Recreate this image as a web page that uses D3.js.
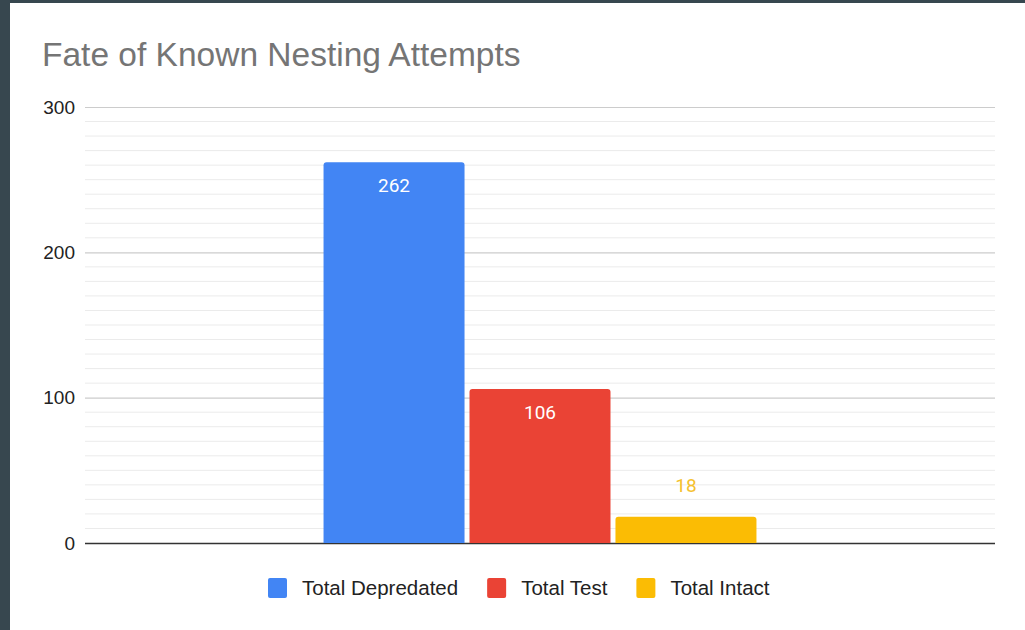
<!DOCTYPE html>
<html>
<head>
<meta charset="utf-8">
<script src="https://cdn.jsdelivr.net/npm/d3@7"></script>
<style>
  html, body { margin: 0; padding: 0; background: #37474f; }
  svg { display: block; }
  .sans { font-family: Arial, "Liberation Sans", Helvetica, sans-serif; }
  .robo { font-family: Roboto, "Noto Sans", sans-serif; }
</style>
</head>
<body>
<svg id="chart" width="1025" height="630"></svg>
<script>
// Chart content
const chartTitle = "Fate of Known Nesting Attempts";
const categories = [""];
const seriesNames = ["Total Depredated", "Total Test", "Total Intact"];
const seriesValues = [262, 106, 18];
const seriesColors = ["#4285f4", "#ea4335", "#fbbc04"];
const labelColors = ["#ffffff", "#ffffff", "#f5c12e"];
const yTicks = [0, 100, 200, 300];

const W = 1025, H = 630;
const margin = { left: 85, right: 30, top: 107, bottom: 87 };

const svg = d3.select("#chart");

// framed panel
svg.append("rect").attr("x", 0).attr("y", 0).attr("width", W).attr("height", H).attr("fill", "#37474f");
svg.append("rect").attr("x", 10).attr("y", 3).attr("width", W - 10).attr("height", H - 3).attr("fill", "#ffffff");

const x0 = d3.scaleBand()
  .domain(categories)
  .range([margin.left, W - margin.right])
  .paddingInner(0)
  .paddingOuter(0.551);

const x1 = d3.scaleBand()
  .domain(seriesNames)
  .range([0, x0.bandwidth()])
  .paddingInner(0.034)
  .paddingOuter(0);

const y = d3.scaleLinear()
  .domain([0, 300])
  .range([H - margin.bottom, margin.top]);

// minor gridlines every 10
const minorTicks = d3.range(0, 301, 10).filter(v => !yTicks.includes(v));
svg.append("g")
  .selectAll("line")
  .data(minorTicks)
  .join("line")
  .attr("x1", margin.left).attr("x2", W - margin.right)
  .attr("y1", d => y(d)).attr("y2", d => y(d))
  .attr("stroke", "#ebebeb").attr("stroke-width", 1);

// major gridlines and tick labels via axis
const yAxis = d3.axisLeft(y)
  .tickValues(yTicks)
  .tickSize(-(W - margin.left - margin.right))
  .tickPadding(10)
  .tickFormat(d3.format("d"));

const gy = svg.append("g")
  .attr("transform", `translate(${margin.left},0)`)
  .call(yAxis);
gy.attr("font-family", null).attr("font-size", null);
gy.select(".domain").remove();
gy.selectAll(".tick line")
  .attr("stroke", d => d === 0 ? "#333333" : "#cccccc")
  .attr("stroke-width", d => d === 0 ? 1.6 : 1.2);
gy.selectAll(".tick text")
  .attr("class", "sans")
  .attr("font-size", 19)
  .attr("fill", "#222222");

// bars with rounded top corners
function topRounded(x, yTop, w, h, r) {
  r = Math.min(r, h, w / 2);
  return `M${x},${yTop + h}V${yTop + r}Q${x},${yTop} ${x + r},${yTop}H${x + w - r}Q${x + w},${yTop} ${x + w},${yTop + r}V${yTop + h}Z`;
}

const rows = seriesNames.map((name, i) => ({ name, value: seriesValues[i], color: seriesColors[i], labelColor: labelColors[i], cat: categories[0] }));

const bars = svg.append("g");
bars.selectAll("path")
  .data(rows)
  .join("path")
  .attr("d", d => {
    const bx = x0(d.cat) + x1(d.name);
    const by = y(d.value);
    return topRounded(bx, by, x1.bandwidth(), y(0) - by, 3);
  })
  .attr("fill", d => d.color);

// value labels: inside the bar when it fits, otherwise above
bars.selectAll("text")
  .data(rows)
  .join("text")
  .attr("class", "robo")
  .attr("x", d => x0(d.cat) + x1(d.name) + x1.bandwidth() / 2)
  .attr("y", d => {
    const h = y(0) - y(d.value);
    return h > 45 ? y(d.value) + 30 : y(d.value) - 25;
  })
  .attr("text-anchor", "middle")
  .attr("font-size", 19)
  .attr("fill", d => d.labelColor)
  .text(d => d.value);

// title
svg.append("text")
  .attr("class", "sans")
  .attr("x", 42).attr("y", 66)
  .attr("font-size", 33.5)
  .attr("fill", "#757575")
  .text(chartTitle);

// legend
const legend = svg.append("g").attr("transform", "translate(268,578)");
let lx = 0;
seriesNames.forEach((name, i) => {
  const item = legend.append("g").attr("transform", `translate(${lx},0)`);
  item.append("rect")
    .attr("x", 0).attr("y", 0).attr("width", 19).attr("height", 20).attr("rx", 2)
    .attr("fill", seriesColors[i]);
  const t = item.append("text")
    .attr("class", "sans")
    .attr("x", 34).attr("y", 17)
    .attr("font-size", 20.5)
    .attr("fill", "#222222")
    .text(name);
  lx += 34 + t.node().getComputedTextLength() + 29;
});
</script>
</body>
</html>
